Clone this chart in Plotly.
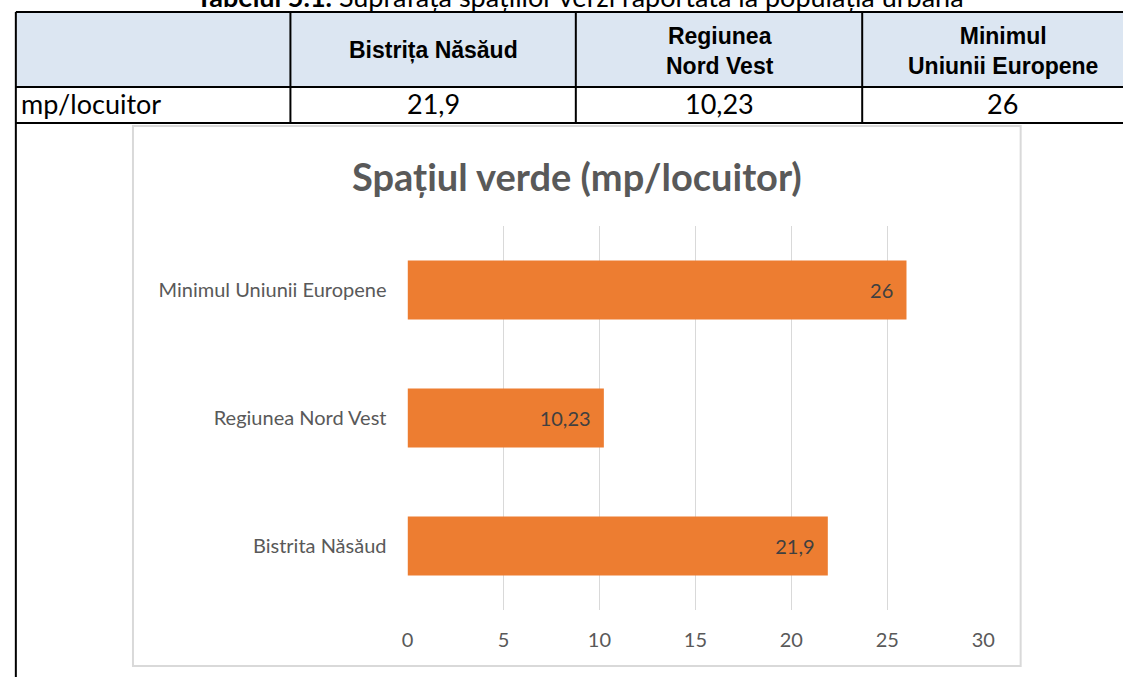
import plotly.graph_objects as go

# data
categories = ["Bistrita Năsăud", "Regiunea Nord Vest", "Minimul Uniunii Europene"]
values = [21.9, 10.23, 26]
table_headers = ["Bistrița Năsăud", "Regiunea<br>Nord Vest", "Minimul<br>Uniunii Europene"]
row_label = "mp/locuitor"
x_ticks = [0, 5, 10, 15, 20, 25, 30]

W, H = 1135, 677
bar_color = "#ED7D31"
gray_text = "#595959"
calibri = "Lato, 'Open Sans', sans-serif"
arial = "'Liberation Sans', Arial, sans-serif"


def px(x):
    return x / W


def py(y):
    return 1 - y / H


fig = go.Figure()
fig.add_trace(go.Bar(
    y=categories,
    x=values,
    orientation="h",
    marker_color=bar_color,
    marker_line_width=0,
    texttemplate="%{x}\u00a0\u00a0",
    textposition="inside",
    insidetextanchor="end",
    textangle=0,
    textfont=dict(color="#404040", size=20, family=calibri),
    hoverinfo="skip",
))

shapes = []
# header fill
shapes.append(dict(type="rect", xref="paper", yref="paper",
                   x0=px(10), x1=px(1135), y0=py(87), y1=py(12),
                   fillcolor="#DCE6F2", line_width=0, layer="below"))
# chart box
shapes.append(dict(type="rect", xref="paper", yref="paper",
                   x0=px(129), x1=px(1031), y0=py(666), y1=py(126),
                   fillcolor="white", line=dict(color="#D9D9D9", width=2), layer="below"))
# table lines
line = dict(color="black", width=2)
for y in [12, 87, 123]:
    shapes.append(dict(type="line", xref="paper", yref="paper",
                       x0=px(10), x1=px(1135), y0=py(y), y1=py(y), line=line))
shapes.append(dict(type="line", xref="paper", yref="paper",
                   x0=px(10), x1=px(10), y0=py(12), y1=py(677), line=line))
for x in [289, 579, 870]:
    shapes.append(dict(type="line", xref="paper", yref="paper",
                       x0=px(x), x1=px(x), y0=py(12), y1=py(123), line=line))

annotations = []
# caption above the table (cut off by the page top, as in the source)
annotations.append(dict(
    text="<b>Tabelul 5.1.</b> Suprafața spațiilor verzi raportată la populația urbană",
    xref="paper", yref="paper", x=px(583), y=py(-3), xanchor="center", yanchor="middle",
    showarrow=False, font=dict(family=calibri, size=27, color="black")))
col_centers = [434, 725, 1013]
for cx, head in zip(col_centers, table_headers):
    annotations.append(dict(
        text="<b>" + head + "</b>", xref="paper", yref="paper",
        x=px(cx), y=py(51), xanchor="center", yanchor="middle",
        showarrow=False, font=dict(family=arial, size=23, color="black")))
# second row
annotations.append(dict(
    text=row_label, xref="paper", yref="paper", x=px(13), y=py(104),
    xanchor="left", yanchor="middle", showarrow=False,
    font=dict(family=calibri, size=27, color="black")))
for cx, v in zip(col_centers, values):
    annotations.append(dict(
        text=("%g" % v).replace(".", ","), xref="paper", yref="paper",
        x=px(cx), y=py(104), xanchor="center", yanchor="middle",
        showarrow=False, font=dict(family=calibri, size=27, color="black")))
# chart title
annotations.append(dict(
    text="<b>Spațiul verde (mp/locuitor)</b>", xref="paper", yref="paper",
    x=px(580), y=py(176), xanchor="center", yanchor="middle", showarrow=False,
    font=dict(family=calibri, size=38, color=gray_text)))

fig.update_layout(
    width=W, height=H,
    margin=dict(l=0, r=0, t=0, b=0),
    paper_bgcolor="white", plot_bgcolor="white",
    separators=",.",
    showlegend=False,
    bargap=0.54,
    shapes=shapes,
    annotations=annotations,
    xaxis=dict(
        domain=[px(408), px(993)],
        range=[0, 30], tickvals=x_ticks,
        showgrid=True, gridcolor="#D9D9D9", gridwidth=1,
        zeroline=False, showline=False,
        ticks="", ticklabelstandoff=16,
        tickfont=dict(family=calibri, size=20, color=gray_text),
    ),
    yaxis=dict(
        domain=[py(610), py(226)],
        categoryorder="array", categoryarray=categories,
        showgrid=False, zeroline=False, showline=False,
        ticks="", ticklabelstandoff=20,
        tickfont=dict(family=calibri, size=20, color=gray_text),
    ),
)

page_fix = ("document.body.style.margin='0px';"
            "document.body.style.overflow='hidden';"
            "document.documentElement.style.overflow='hidden';")
fig.write_html("out.html", config={"displayModeBar": False}, post_script=page_fix)
